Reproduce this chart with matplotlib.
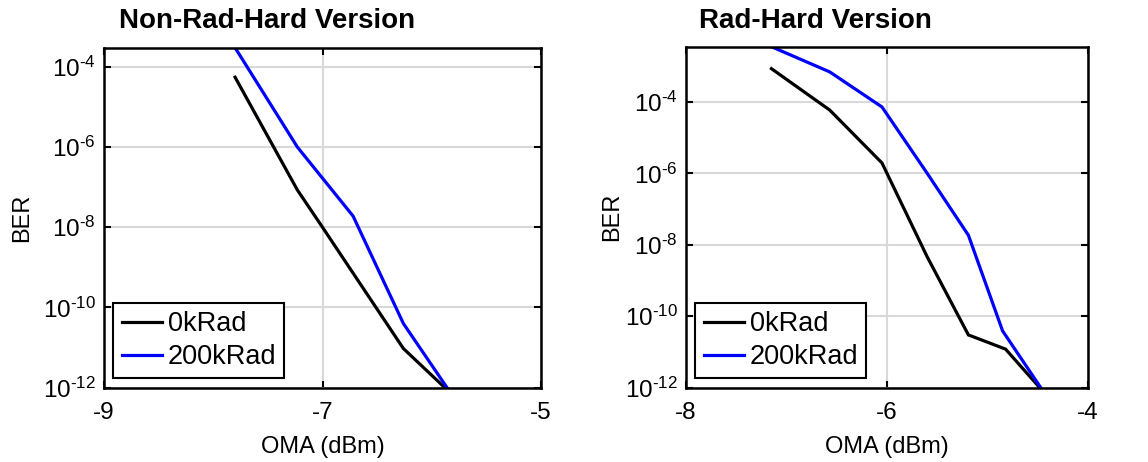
import matplotlib
matplotlib.use("Agg")
import matplotlib.pyplot as plt
from matplotlib.ticker import FuncFormatter, NullLocator
import numpy as np

plt.rcParams['font.family'] = ['Liberation Sans', 'DejaVu Sans']
plt.rcParams['mathtext.fontset'] = 'custom'
plt.rcParams['mathtext.rm'] = 'Liberation Sans'
plt.rcParams['mathtext.it'] = 'Liberation Sans:italic'
plt.rcParams['mathtext.bf'] = 'Liberation Sans:bold'
plt.rcParams['mathtext.default'] = 'regular'
plt.rcParams['axes.unicode_minus'] = False

# ---- data ----
titles = ["Non-Rad-Hard Version", "Rad-Hard Version"]
series_names = ["0kRad", "200kRad"]

nonrad_x_0k = [-7.80, -7.23, -7.00, -6.26, -5.88]
nonrad_ber_0k = [5.5e-5, 8.5e-8, 1.0e-8, 9.5e-12, 1.0e-12]
nonrad_x_200k = [-7.80, -7.23, -6.72, -6.26, -5.86]
nonrad_ber_200k = [3.0e-4, 1.0e-6, 1.9e-8, 4.0e-11, 1.0e-12]

rad_x_0k = [-7.15, -6.57, -6.05, -5.60, -5.19, -4.82, -4.48]
rad_ber_0k = [8.5e-4, 5.9e-5, 1.95e-6, 4.6e-9, 3.0e-11, 1.2e-11, 1.0e-12]
rad_x_200k = [-7.15, -6.57, -6.05, -5.60, -5.19, -4.85, -4.47]
rad_ber_200k = [3.5e-3, 6.9e-4, 7.2e-5, 1.0e-6, 1.85e-8, 3.9e-11, 1.0e-12]

left_xlim = (-9, -5)
left_xticks = [-9, -7, -5]
left_ylim = (1e-12, 3.0e-4)
right_xlim = (-8, -4)
right_xticks = [-8, -6, -4]
right_ylim = (1e-12, 3.5e-3)
yticks = [1e-12, 1e-10, 1e-8, 1e-6, 1e-4]

colors = ["black", "#0000ff"]

W, H = 1148, 462
fig = plt.figure(figsize=(W / 100, H / 100), dpi=100)

def px_axes(x0, x1, ytop, ybot):
    return fig.add_axes([x0 / W, (H - ybot) / H, (x1 - x0) / W, (ybot - ytop) / H])

ax1 = px_axes(104, 541, 47.7, 387.7)
ax2 = px_axes(686, 1088, 46.7, 387.7)

def log_fmt(v, pos):
    e = int(round(np.log10(v)))
    if e < 0:
        return r'$10^{\text{-}%d}$' % (-e)
    return r'$10^{%d}$' % e

panels = [
    (ax1, [(nonrad_x_0k, nonrad_ber_0k), (nonrad_x_200k, nonrad_ber_200k)], left_xlim, left_xticks, left_ylim),
    (ax2, [(rad_x_0k, rad_ber_0k), (rad_x_200k, rad_ber_200k)], right_xlim, right_xticks, right_ylim),
]

for ax, series, xlim, xticks, ylim in panels:
    for (xs, ys), c, name in zip(series, colors, series_names):
        ax.plot(xs, ys, color=c, lw=2.3, label=name, solid_joinstyle='miter')
    ax.set_yscale('log')
    ax.set_xlim(*xlim)
    ax.set_ylim(*ylim)
    ax.set_xticks(xticks)
    ax.set_xticklabels([str(t) for t in xticks])
    ax.set_yticks(yticks)
    ax.yaxis.set_major_formatter(FuncFormatter(log_fmt))
    ax.yaxis.set_minor_locator(NullLocator())
    ax.grid(True, color='#d9d9d9', lw=1.5)
    ax.set_axisbelow(True)
    ax.tick_params(direction='in', top=True, right=True, length=5, width=1.5,
                   labelsize=17.5)
    ax.tick_params(axis='x', pad=10)
    ax.tick_params(axis='y', pad=6)
    for s in ax.spines.values():
        s.set_linewidth(1.8)
    ax.set_xlabel("OMA (dBm)", fontsize=17)
    ax.set_ylabel("BER", fontsize=17)
    leg = ax.legend(loc='lower left', fontsize=19.5, frameon=True, fancybox=False,
                    handlelength=1.5, handletextpad=0.2, borderpad=0.3,
                    labelspacing=0.25, borderaxespad=0.35)
    leg.get_frame().set_edgecolor('black')
    leg.get_frame().set_linewidth(1.5)
    leg.get_frame().set_alpha(1)

ax1.yaxis.set_label_coords((33 - 104) / (541 - 104), 0.5)
ax2.yaxis.set_label_coords((623 - 686) / (1088 - 686), 0.5)
for ax in (ax1, ax2):
    ax.xaxis.set_label_coords(0.5, -(436 - 387.7) / 340)

fig.text(267.5 / W, (H - 28) / H, titles[0], ha='center', va='baseline',
         fontsize=20, fontweight='bold')
fig.text(815 / W, (H - 28) / H, titles[1], ha='center', va='baseline',
         fontsize=20, fontweight='bold')

fig.savefig("out.png", dpi=100, facecolor='white')
